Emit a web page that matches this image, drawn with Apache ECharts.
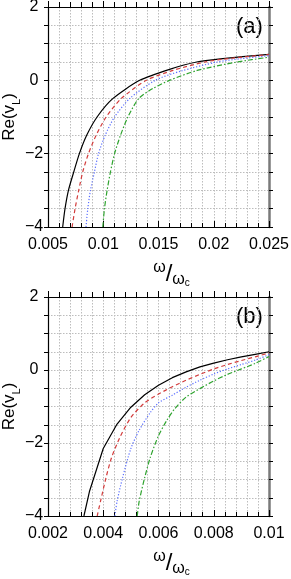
<!DOCTYPE html>
<html>
<head>
<meta charset="utf-8">
<style>
  html, body { margin: 0; padding: 0; background: #fff; }
  #chart { width: 291px; height: 579px; }
</style>
<script src="https://cdn.jsdelivr.net/npm/echarts@6/dist/echarts.min.js"></script>
</head>
<body>
<div id="chart"></div>
<script>
// ---- Panel (a) data: [omega/omega_c, Re(v_L)] ----
const aBlack = [[0.00633,-4],[0.00654,-3.5],[0.00685,-3],[0.00733,-2.5],[0.00784,-2],[0.0085,-1.5],[0.00944,-1],[0.01086,-0.5],[0.0133,0],[0.0160,0.3],[0.01845,0.5],[0.0206,0.585],[0.025,0.71]];
const aRed   = [[0.00718,-4],[0.00745,-3.5],[0.00778,-3],[0.00814,-2.5],[0.00866,-2],[0.00935,-1.5],[0.01026,-1],[0.01162,-0.5],[0.0139,0],[0.0163,0.27],[0.0192,0.5],[0.0215,0.6],[0.025,0.7]];
const aBlue  = [[0.00844,-4],[0.0086,-3.5],[0.00884,-3],[0.0092,-2.5],[0.00957,-2],[0.01017,-1.5],[0.01102,-1],[0.01238,-0.5],[0.0147,0],[0.0170,0.25],[0.0203,0.5],[0.0225,0.59],[0.025,0.67]];
const aGreen = [[0.00996,-4],[0.01011,-3.5],[0.01035,-3],[0.01065,-2.5],[0.01102,-2],[0.01156,-1.5],[0.01223,-1],[0.0132,-0.5],[0.0145,-0.22],[0.0160,0],[0.0185,0.27],[0.0221,0.5],[0.025,0.63]];

// ---- Panel (b) data ----
const bBlack = [[0.0033,-4],[0.0035,-3.33],[0.004,-2.15],[0.0045,-1.48],[0.005,-1.02],[0.0055,-0.68],[0.006,-0.42],[0.0065,-0.21],[0.007,-0.05],[0.0075,0.085],[0.008,0.19],[0.0085,0.28],[0.009,0.36],[0.0095,0.43],[0.01,0.5]];
const bRed   = [[0.00378,-4],[0.0039,-3.6],[0.0041,-2.95],[0.0043,-2.4],[0.0046,-1.85],[0.005,-1.3],[0.0055,-0.9],[0.006,-0.66],[0.0065,-0.46],[0.007,-0.28],[0.0075,-0.12],[0.008,0.03],[0.0085,0.15],[0.009,0.26],[0.0095,0.36],[0.01,0.47]];
const bBlue  = [[0.00442,-4],[0.0045,-3.6],[0.0047,-2.95],[0.005,-2.15],[0.0053,-1.65],[0.0057,-1.17],[0.006,-0.9],[0.0065,-0.69],[0.007,-0.47],[0.0075,-0.28],[0.008,-0.11],[0.0085,0.03],[0.009,0.15],[0.0095,0.27],[0.01,0.42]];
const bGreen = [[0.00523,-4],[0.0053,-3.6],[0.0055,-2.95],[0.0057,-2.4],[0.006,-1.8],[0.0063,-1.38],[0.0066,-1.05],[0.007,-0.74],[0.0075,-0.51],[0.008,-0.3],[0.0085,-0.12],[0.009,0.03],[0.0095,0.18],[0.01,0.37]];

// ---- Axis ranges / tick labels ----
const aXRange = [0.005, 0.025, 0.005];
const bXRange = [0.002, 0.01, 0.002];
const yRange  = [-4, 2, 2];
const panelLabels = ['(a)', '(b)'];

const FONT = 'Liberation Sans, Arial, Helvetica, sans-serif';
const gridLine = { show: true, lineStyle: { color: '#bdbdbd', type: [1.5, 1.5], width: 1 } };

function xAxes(gi, r) {
  const common = { type: 'value', gridIndex: gi, min: r[0], max: r[1], interval: r[2] };
  return [
    Object.assign({}, common, {
      position: 'bottom',
      axisLine: { show: true, onZero: false, lineStyle: { color: '#000', width: 1.2 } },
      axisTick: { show: true, inside: true, length: 6, lineStyle: { color: '#000', width: 1 } },
      minorTick: { show: true, splitNumber: 5, length: 4, lineStyle: { color: '#000', width: 1 } },
      axisLabel: { color: '#000', fontSize: 16, fontFamily: FONT, margin: 10,
        formatter: v => String(+v.toFixed(4)) },
      splitLine: gridLine,
      minorSplitLine: gridLine,
      name: '{a|ω}{s|/}{b|ω}{c|c}',
      nameLocation: 'middle',
      nameMoveOverlap: false,
      nameGap: 33,
      nameTextStyle: {
        padding: [0, 0, 0, 26],
        rich: {
          a: { fontSize: 16, fontFamily: FONT, color: '#000', verticalAlign: 'top' },
          s: { fontSize: 24, fontFamily: FONT, color: '#000', lineHeight: 28 },
          b: { fontSize: 16, fontFamily: FONT, color: '#000', verticalAlign: 'bottom' },
          c: { fontSize: 10, fontFamily: FONT, color: '#000', verticalAlign: 'bottom' }
        }
      }
    }),
    Object.assign({}, common, {
      position: 'top',
      axisLine: { show: true, onZero: false, lineStyle: { color: '#000', width: 1.2 } },
      axisTick: { show: true, inside: false, length: 6, lineStyle: { color: '#000', width: 1 } },
      minorTick: { show: true, splitNumber: 5, length: 5, lineStyle: { color: '#000', width: 1 } },
      axisLabel: { show: false },
      splitLine: { show: false }
    })
  ];
}

function yAxes(gi) {
  const common = { type: 'value', gridIndex: gi, min: yRange[0], max: yRange[1], interval: yRange[2] };
  return [
    Object.assign({}, common, {
      position: 'left',
      axisLine: { show: true, onZero: false, lineStyle: { color: '#000', width: 1.2 } },
      axisTick: { show: true, inside: false, length: 4, lineStyle: { color: '#000', width: 1 } },
      minorTick: { show: true, splitNumber: 4, length: 4, lineStyle: { color: '#000', width: 1 } },
      axisLabel: { color: '#000', fontSize: 16, fontFamily: FONT, margin: 14, align: 'center',
        formatter: v => (v < 0 ? '\u2212' + Math.abs(v) : String(v)) },
      splitLine: gridLine,
      minorSplitLine: gridLine,
      name: '{t|Re(v}{s|L}{t|)}',
      nameLocation: 'middle',
      nameMoveOverlap: false,
      nameRotate: 90,
      nameGap: 30,
      nameTextStyle: {
        rich: {
          t: { fontSize: 17, fontFamily: FONT, color: '#000', lineHeight: 18 },
          s: { fontSize: 11, fontFamily: FONT, color: '#000', verticalAlign: 'bottom', lineHeight: 18, padding: [0,0,-4,0] }
        }
      }
    }),
    Object.assign({}, common, {
      position: 'right',
      axisLine: { show: true, onZero: false, lineStyle: { color: '#7a7a7a', width: 2.5 } },
      axisTick: { show: true, inside: false, length: 4, lineStyle: { color: '#000', width: 1 } },
      minorTick: { show: true, splitNumber: 4, length: 4, lineStyle: { color: '#000', width: 1 } },
      axisLabel: { show: false },
      splitLine: { show: false }
    })
  ];
}

const styles = [
  { color: '#000000', type: 'solid' },
  { color: '#d23c3c', type: [4, 3] },
  { color: '#5a6eff', type: [1.2, 1.8] },
  { color: '#2ea32e', type: [5, 2, 1.5, 2] }
];

function mkSeries(data, xi, yi, k) {
  return {
    type: 'line', data: data, xAxisIndex: xi, yAxisIndex: yi,
    showSymbol: false, symbol: 'none', smooth: 0.25, clip: true,
    lineStyle: { color: styles[k].color, type: styles[k].type, width: 1.2 },
    silent: true, animation: false, z: 3
  };
}

const option = {
  animation: false,
  backgroundColor: '#fff',
  grid: [
    { left: 48, top: 7, width: 221, height: 220, containLabel: false, outerBoundsMode: 'none' },
    { left: 48, top: 297, width: 221, height: 219, containLabel: false, outerBoundsMode: 'none' }
  ],
  xAxis: [...xAxes(0, aXRange), ...xAxes(1, bXRange)],
  yAxis: [...yAxes(0), ...yAxes(1)],
  graphic: [
    { type: 'text', left: 236, top: 16, style: { text: panelLabels[0], font: '22px ' + FONT, fill: '#000' } },
    { type: 'text', left: 236, top: 306, style: { text: panelLabels[1], font: '22px ' + FONT, fill: '#000' } }
  ],
  series: [
    mkSeries(aBlack, 0, 0, 0), mkSeries(aRed, 0, 0, 1), mkSeries(aBlue, 0, 0, 2), mkSeries(aGreen, 0, 0, 3),
    Object.assign(mkSeries(bBlack, 2, 2, 0), { smooth: false }),
    mkSeries(bRed, 2, 2, 1), mkSeries(bBlue, 2, 2, 2), mkSeries(bGreen, 2, 2, 3)
  ]
};

const chart = echarts.init(document.getElementById('chart'), null, { renderer: 'canvas' });
chart.setOption(option);
</script>
</body>
</html>
